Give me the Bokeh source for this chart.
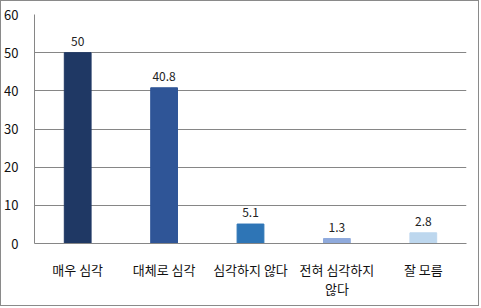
from bokeh.plotting import figure
from bokeh.models import ColumnDataSource, FixedTicker, Range1d
from bokeh.core.properties import value
from bokeh.embed import file_html
from bokeh.resources import INLINE

categories = ["매우 심각", "대체로 심각", "심각하지 않다", "전혀 심각하지\n않다", "잘 모름"]
values = [50, 40.8, 5.1, 1.3, 2.8]
labels = ["50", "40.8", "5.1", "1.3", "2.8"]
colors = ["#1F3864", "#2F5597", "#2E75B6", "#8FAADC", "#BDD7EE"]
y_ticks = [0, 10, 20, 30, 40, 50, 60]

xs = list(range(len(categories)))
src = ColumnDataSource(dict(x=xs, top=values, color=colors, label=labels))

FONT = "Noto Sans CJK KR"

p = figure(width=479, height=306, output_backend="svg", toolbar_location=None,
           x_range=Range1d(-0.5, len(categories) - 0.5), y_range=Range1d(0, 60),
           min_border_left=33, min_border_right=14, min_border_top=13, min_border_bottom=64,
           styles={"border": "1px solid #8a8a8a"})
p.outline_line_color = None
p.background_fill_color = "white"

p.vbar(x="x", top="top", width=0.31, color="color", source=src)
p.text(x="x", y="top", text="label", source=src, text_align="center", text_baseline="bottom",
       y_offset=-7, text_font=value(FONT), text_font_size="12px", text_color="#222222")

p.yaxis.ticker = FixedTicker(ticks=y_ticks)
p.xaxis.ticker = FixedTicker(ticks=xs)
p.xaxis.major_label_overrides = {i: c for i, c in enumerate(categories)}

for ax in (p.xaxis, p.yaxis):
    ax.axis_line_color = "#868686"
    ax.major_tick_line_color = None
    ax.minor_tick_line_color = None
    ax.major_label_text_font = FONT
    ax.major_label_text_color = "#111111"

p.yaxis.major_label_text_font_size = "13px"
p.yaxis.major_label_standoff = 10
p.xaxis.major_label_text_font_size = "13px"
p.xaxis.major_label_standoff = 10
p.xaxis.major_label_text_line_height = 1.0

p.xgrid.grid_line_color = None
p.ygrid.grid_line_color = "#868686"
p.ygrid.grid_line_width = 1

open("out.html", "w").write(file_html(p, INLINE))
